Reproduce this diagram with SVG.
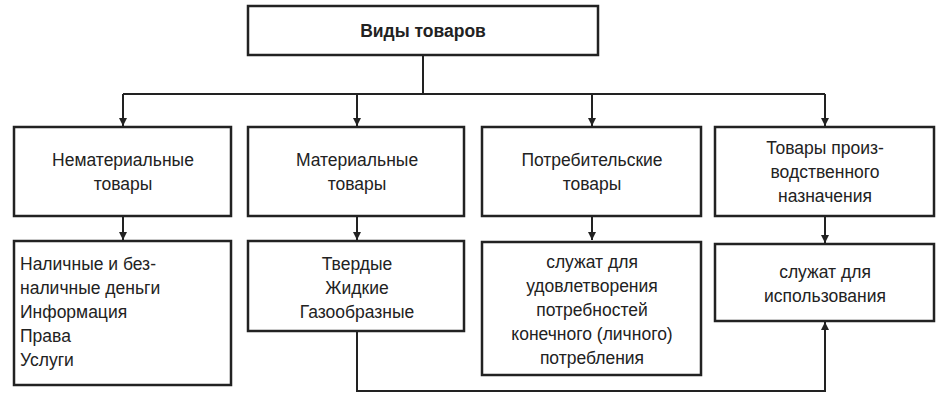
<svg xmlns="http://www.w3.org/2000/svg" width="942" height="400" viewBox="0 0 942 400">
<style>
rect{fill:#fff;stroke:#222;stroke-width:2.5}
text{font-family:"Liberation Sans",Arial,sans-serif;font-size:17.5px;fill:#222;text-anchor:middle}
text.s{text-anchor:start}
.l{stroke:#222;stroke-width:2;fill:none}
</style>
<defs><marker id="a" viewBox="0 0 10 10" refX="10" refY="5" markerWidth="8" markerHeight="10" orient="auto" markerUnits="userSpaceOnUse"><path d="M0,0L10,5L0,10z" fill="#222"/></marker></defs>
<rect width="942" height="400" style="fill:#fff;stroke:none"/>
<g id="edges">
<path class="l" d="M423,55V94M123,94H825"/>
<path class="l" d="M123,94V126" marker-end="url(#a)"/>
<path class="l" d="M357,94V126" marker-end="url(#a)"/>
<path class="l" d="M592,94V126" marker-end="url(#a)"/>
<path class="l" d="M825,94V126" marker-end="url(#a)"/>
<path class="l" d="M123,216V240" marker-end="url(#a)"/>
<path class="l" d="M357,216V240" marker-end="url(#a)"/>
<path class="l" d="M592,216V240" marker-end="url(#a)"/>
<path class="l" d="M825,216V243" marker-end="url(#a)"/>
<path class="l" d="M357,331V391H825V322" marker-end="url(#a)"/>
</g>
<g id="root"><rect x="248" y="6" width="350" height="49"/><text x="423" y="37" font-weight="bold">Виды товаров</text></g>
<g id="n1"><rect x="14" y="127" width="217" height="89"/><text x="123" y="166">Нематериальные</text><text x="123" y="190">товары</text></g>
<g id="n2"><rect x="248" y="127" width="216" height="89"/><text x="357" y="166">Материальные</text><text x="357" y="190">товары</text></g>
<g id="n3"><rect x="482" y="127" width="219" height="89"/><text x="592" y="166">Потребительские</text><text x="592" y="190">товары</text></g>
<g id="n4"><rect x="715" y="127" width="219" height="89"/><text x="825" y="154">Товары произ-</text><text x="825" y="178">водственного</text><text x="825" y="202">назначения</text></g>
<g id="d1"><rect x="14" y="241" width="217" height="144"/><text class="s" x="20" y="270">Наличные и без-</text><text class="s" x="20" y="294">наличные деньги</text><text class="s" x="20" y="318">Информация</text><text class="s" x="20" y="342">Права</text><text class="s" x="20" y="366">Услуги</text></g>
<g id="d2"><rect x="248" y="241" width="216" height="90"/><text x="357" y="270">Твердые</text><text x="357" y="294">Жидкие</text><text x="357" y="318">Газообразные</text></g>
<g id="d3"><rect x="482" y="242" width="219" height="133"/><text x="592" y="268">служат для</text><text x="592" y="292">удовлетворения</text><text x="592" y="316">потребностей</text><text x="592" y="340">конечного (личного)</text><text x="592" y="364">потребления</text></g>
<g id="d4"><rect x="715" y="244" width="219" height="77"/><text x="825" y="278">служат для</text><text x="825" y="302">использования</text></g>
</svg>
